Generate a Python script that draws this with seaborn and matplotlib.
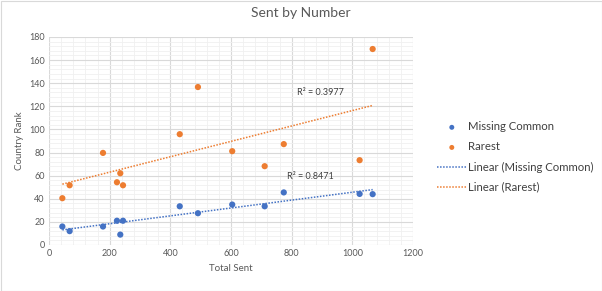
import numpy as np
import pandas as pd
import matplotlib
matplotlib.use("Agg")
import matplotlib.pyplot as plt
from matplotlib.ticker import MultipleLocator
from matplotlib.patches import Rectangle
import seaborn as sns

total_sent = [44, 68, 178, 224, 235, 244, 431, 491, 604, 711, 774, 1024, 1067]
missing_common = [16, 12, 16, 21, 9, 21, 33.5, 27.5, 35, 33.5, 45.5, 44.2, 44]
rarest = [40.5, 51.7, 79.7, 54.3, 62.1, 51.7, 95.9, 136.7, 81.2, 68.2, 87.3, 73.4, 169.6]
r2_labels = ["R² = 0.8471", "R² = 0.3977"]

blue = "#4472C4"
orange = "#ED7D31"

sns.set_theme(style="white")
plt.rcParams['font.family'] = ['Lato', 'DejaVu Sans']

df = pd.DataFrame({"x": total_sent, "mc": missing_common, "ra": rarest})

fig = plt.figure(figsize=(6.02, 2.91), dpi=100)
ax = fig.add_axes([49/602, 1-245/291, (413-49)/602, (245-37)/291])

sns.scatterplot(data=df, x="x", y="mc", ax=ax, color=blue, s=20, edgecolor="none", legend=False, zorder=3)
sns.scatterplot(data=df, x="x", y="ra", ax=ax, color=orange, s=20, edgecolor="none", legend=False, zorder=3)
n0 = len(ax.lines)
sns.regplot(data=df, x="x", y="mc", ax=ax, scatter=False, ci=None, truncate=True,
            line_kws=dict(color=blue, lw=1.1, ls=(0, (1, 1))))
sns.regplot(data=df, x="x", y="ra", ax=ax, scatter=False, ci=None, truncate=True,
            line_kws=dict(color=orange, lw=1.1, ls=(0, (1, 1))))

ax.text(818, 130, r2_labels[1], fontsize=6.5, color="#404040")
ax.text(784, 57, r2_labels[0], fontsize=6.5, color="#404040")

ax.set_xlim(0, 1200)
ax.set_ylim(0, 180)
ax.xaxis.set_major_locator(MultipleLocator(200))
ax.xaxis.set_minor_locator(MultipleLocator(40))
ax.yaxis.set_major_locator(MultipleLocator(20))
ax.yaxis.set_minor_locator(MultipleLocator(4))
ax.grid(which="major", color="#D9D9D9", lw=0.8)
ax.grid(which="minor", color="#F0F0F0", lw=0.6)
ax.set_axisbelow(True)
for s in ax.spines.values():
    s.set_visible(False)
ax.tick_params(which="both", length=0, labelsize=6.5, labelcolor="#595959", pad=3)
ax.set_xlabel("Total Sent", fontsize=7, color="#595959", labelpad=4)
ax.set_ylabel("Country Rank", fontsize=7, color="#595959", labelpad=4)
fig.suptitle("Sent by Number", x=0.5, y=0.975, fontsize=10, color="#595959")

handles = ax.collections[:2] + ax.lines[n0:n0 + 2]
labels = ["Missing Common", "Rarest", "Linear (Missing Common)", "Linear (Rarest)"]
leg = fig.legend(handles, labels, loc="center left", bbox_to_anchor=(437/602, 1-157/291),
                 bbox_transform=fig.transFigure, frameon=False, borderpad=0, borderaxespad=0,
                 fontsize=8.2, labelcolor="#404040", handlelength=2.6, handletextpad=0.1,
                 labelspacing=0.8, markerscale=0.8)

fig.patches.append(Rectangle((0.5/602, 0.5/291), 1-1/602, 1-1/291, transform=fig.transFigure,
                             fill=False, edgecolor="#D9D9D9", lw=0.8))
fig.savefig("out.png", dpi=100)
